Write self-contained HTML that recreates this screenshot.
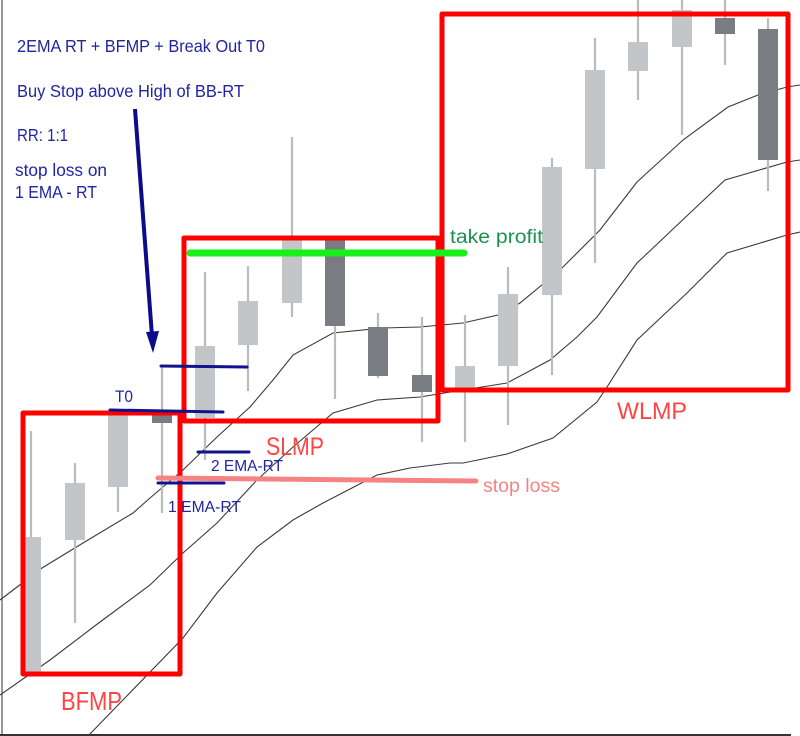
<!DOCTYPE html>
<html>
<head>
<meta charset="utf-8">
<style>
html,body{margin:0;padding:0;background:#fff;}
svg{display:block;}
text{font-family:"Liberation Sans",sans-serif;}
</style>
</head>
<body>
<svg width="800" height="736" viewBox="0 0 800 736" xmlns="http://www.w3.org/2000/svg">
<rect x="0" y="0" width="800" height="736" fill="#ffffff"/>
<!-- frame -->
<line x1="2" y1="0" x2="2" y2="736" stroke="#777" stroke-width="1.5"/>
<line x1="0" y1="735" x2="791" y2="735" stroke="#333" stroke-width="2"/>

<!-- EMA lines -->
<g fill="none" stroke="#3a3a3a" stroke-width="1.1">
<polyline points="0,600 42,568 83,543 133,513 150,498 183,470 217,437 250,407 273,380 293,355 333,333 383,328 420,327 463,323 498,315 520,303 560,270 600,230 637,182 683,140 728,107 758,95 787,87 800,85"/>
<polyline points="0,695 50,660 100,622 150,585 183,553 217,523 257,480 293,447 333,413 377,400 420,397 463,390 507,383 550,360 577,337 597,317 637,263 653,248 673,229 725,180 787,162 800,160"/>
<polyline points="88,736 120,703 183,638 217,593 257,547 293,520 323,503 377,475 410,468 450,463 463,463 507,454 553,438 597,402 607,387 637,340 687,293 727,253 787,235 800,232"/>
</g>

<!-- candles: wicks -->
<g stroke="#b9bcbf" stroke-width="2.2">
<line x1="31" y1="431" x2="31" y2="672"/>
<line x1="75" y1="463" x2="75" y2="623"/>
<line x1="118" y1="413" x2="118" y2="512"/>
<line x1="162" y1="366" x2="162" y2="513"/>
<line x1="205" y1="272" x2="205" y2="460"/>
<line x1="248" y1="266" x2="248" y2="391"/>
<line x1="292" y1="137" x2="292" y2="317"/>
<line x1="335" y1="236" x2="335" y2="399"/>
<line x1="378" y1="313" x2="378" y2="378"/>
<line x1="422" y1="317" x2="422" y2="442"/>
<line x1="465" y1="315" x2="465" y2="442"/>
<line x1="508" y1="267" x2="508" y2="425"/>
<line x1="552" y1="158" x2="552" y2="375"/>
<line x1="595" y1="38" x2="595" y2="263"/>
<line x1="638" y1="0" x2="638" y2="100"/>
<line x1="682" y1="0" x2="682" y2="135"/>
<line x1="725" y1="0" x2="725" y2="65"/>
<line x1="768" y1="18" x2="768" y2="191"/>
</g>
<!-- candle bodies -->
<g fill="#c3c6c9">
<rect x="21" y="537" width="20" height="135"/>
<rect x="65" y="483" width="20" height="57"/>
<rect x="108" y="413" width="20" height="74"/>
<rect x="195" y="346" width="20" height="72"/>
<rect x="238" y="301" width="20" height="44"/>
<rect x="282" y="238" width="20" height="65"/>
<rect x="455" y="366" width="20" height="22"/>
<rect x="498" y="294" width="20" height="72"/>
<rect x="542" y="167" width="20" height="128"/>
<rect x="585" y="70" width="20" height="99"/>
<rect x="628" y="42" width="20" height="29"/>
<rect x="672" y="10" width="20" height="37"/>
</g>
<g fill="#797d83">
<rect x="152" y="415" width="20" height="8"/>
<rect x="325" y="238" width="20" height="88"/>
<rect x="368" y="327" width="20" height="49"/>
<rect x="412" y="375" width="20" height="17"/>
<rect x="715" y="18" width="20" height="16"/>
<rect x="758" y="29" width="20" height="131"/>
</g>

<!-- red boxes -->
<g fill="none" stroke="#ff0000" stroke-width="5" stroke-linejoin="round">
<rect x="23" y="413" width="157" height="261"/>
<rect x="184" y="238" width="254" height="183"/>
<rect x="442" y="14" width="346" height="376"/>
</g>

<!-- take profit line -->
<line x1="190" y1="253" x2="464" y2="253" stroke="#19ef19" stroke-width="7" stroke-linecap="round"/>
<text x="450" y="243" font-size="19" fill="#1d9150" textLength="93" lengthAdjust="spacingAndGlyphs">take profit</text>

<!-- stop loss line -->
<line x1="158" y1="478" x2="476" y2="481" stroke="#f58383" stroke-width="5" stroke-linecap="round"/>
<text x="483" y="492" font-size="19" fill="#f58383" textLength="77" lengthAdjust="spacingAndGlyphs">stop loss</text>

<!-- blue lines -->
<g stroke="#10128e" stroke-width="3" stroke-linecap="round">
<line x1="161" y1="366" x2="247" y2="367"/>
<line x1="110" y1="410" x2="223" y2="412"/>
<line x1="198" y1="452" x2="249" y2="452"/>
<line x1="158" y1="483" x2="224" y2="483"/>
</g>

<!-- arrow -->
<line x1="135" y1="109" x2="152" y2="336" stroke="#0b0c8a" stroke-width="4"/>
<polygon points="146,332 159,331 153,353" fill="#0b0c8a"/>

<!-- blue texts -->
<g fill="#2224a2">
<text x="17" y="52" font-size="17.5" textLength="248" lengthAdjust="spacingAndGlyphs">2EMA RT + BFMP + Break Out T0</text>
<text x="17" y="97" font-size="17.5" textLength="227" lengthAdjust="spacingAndGlyphs">Buy Stop above High of BB-RT</text>
<text x="17" y="141" font-size="17.5" textLength="51" lengthAdjust="spacingAndGlyphs">RR: 1:1</text>
<text x="15" y="176" font-size="17.5" textLength="92" lengthAdjust="spacingAndGlyphs">stop loss on</text>
<text x="15" y="198" font-size="17.5" textLength="82" lengthAdjust="spacingAndGlyphs">1 EMA - RT</text>
<text x="115" y="402" font-size="17" textLength="18" lengthAdjust="spacingAndGlyphs">T0</text>
<text x="211" y="471" font-size="16" textLength="72" lengthAdjust="spacingAndGlyphs">2 EMA-RT</text>
<text x="168" y="512" font-size="16" textLength="73" lengthAdjust="spacingAndGlyphs">1 EMA-RT</text>
</g>

<!-- red labels -->
<g fill="#ff4444">
<text x="61" y="710" font-size="26" textLength="61" lengthAdjust="spacingAndGlyphs">BFMP</text>
<text x="266" y="455" font-size="25" textLength="58" lengthAdjust="spacingAndGlyphs">SLMP</text>
<text x="617" y="419" font-size="24" textLength="70" lengthAdjust="spacingAndGlyphs">WLMP</text>
</g>
</svg>
</body>
</html>
